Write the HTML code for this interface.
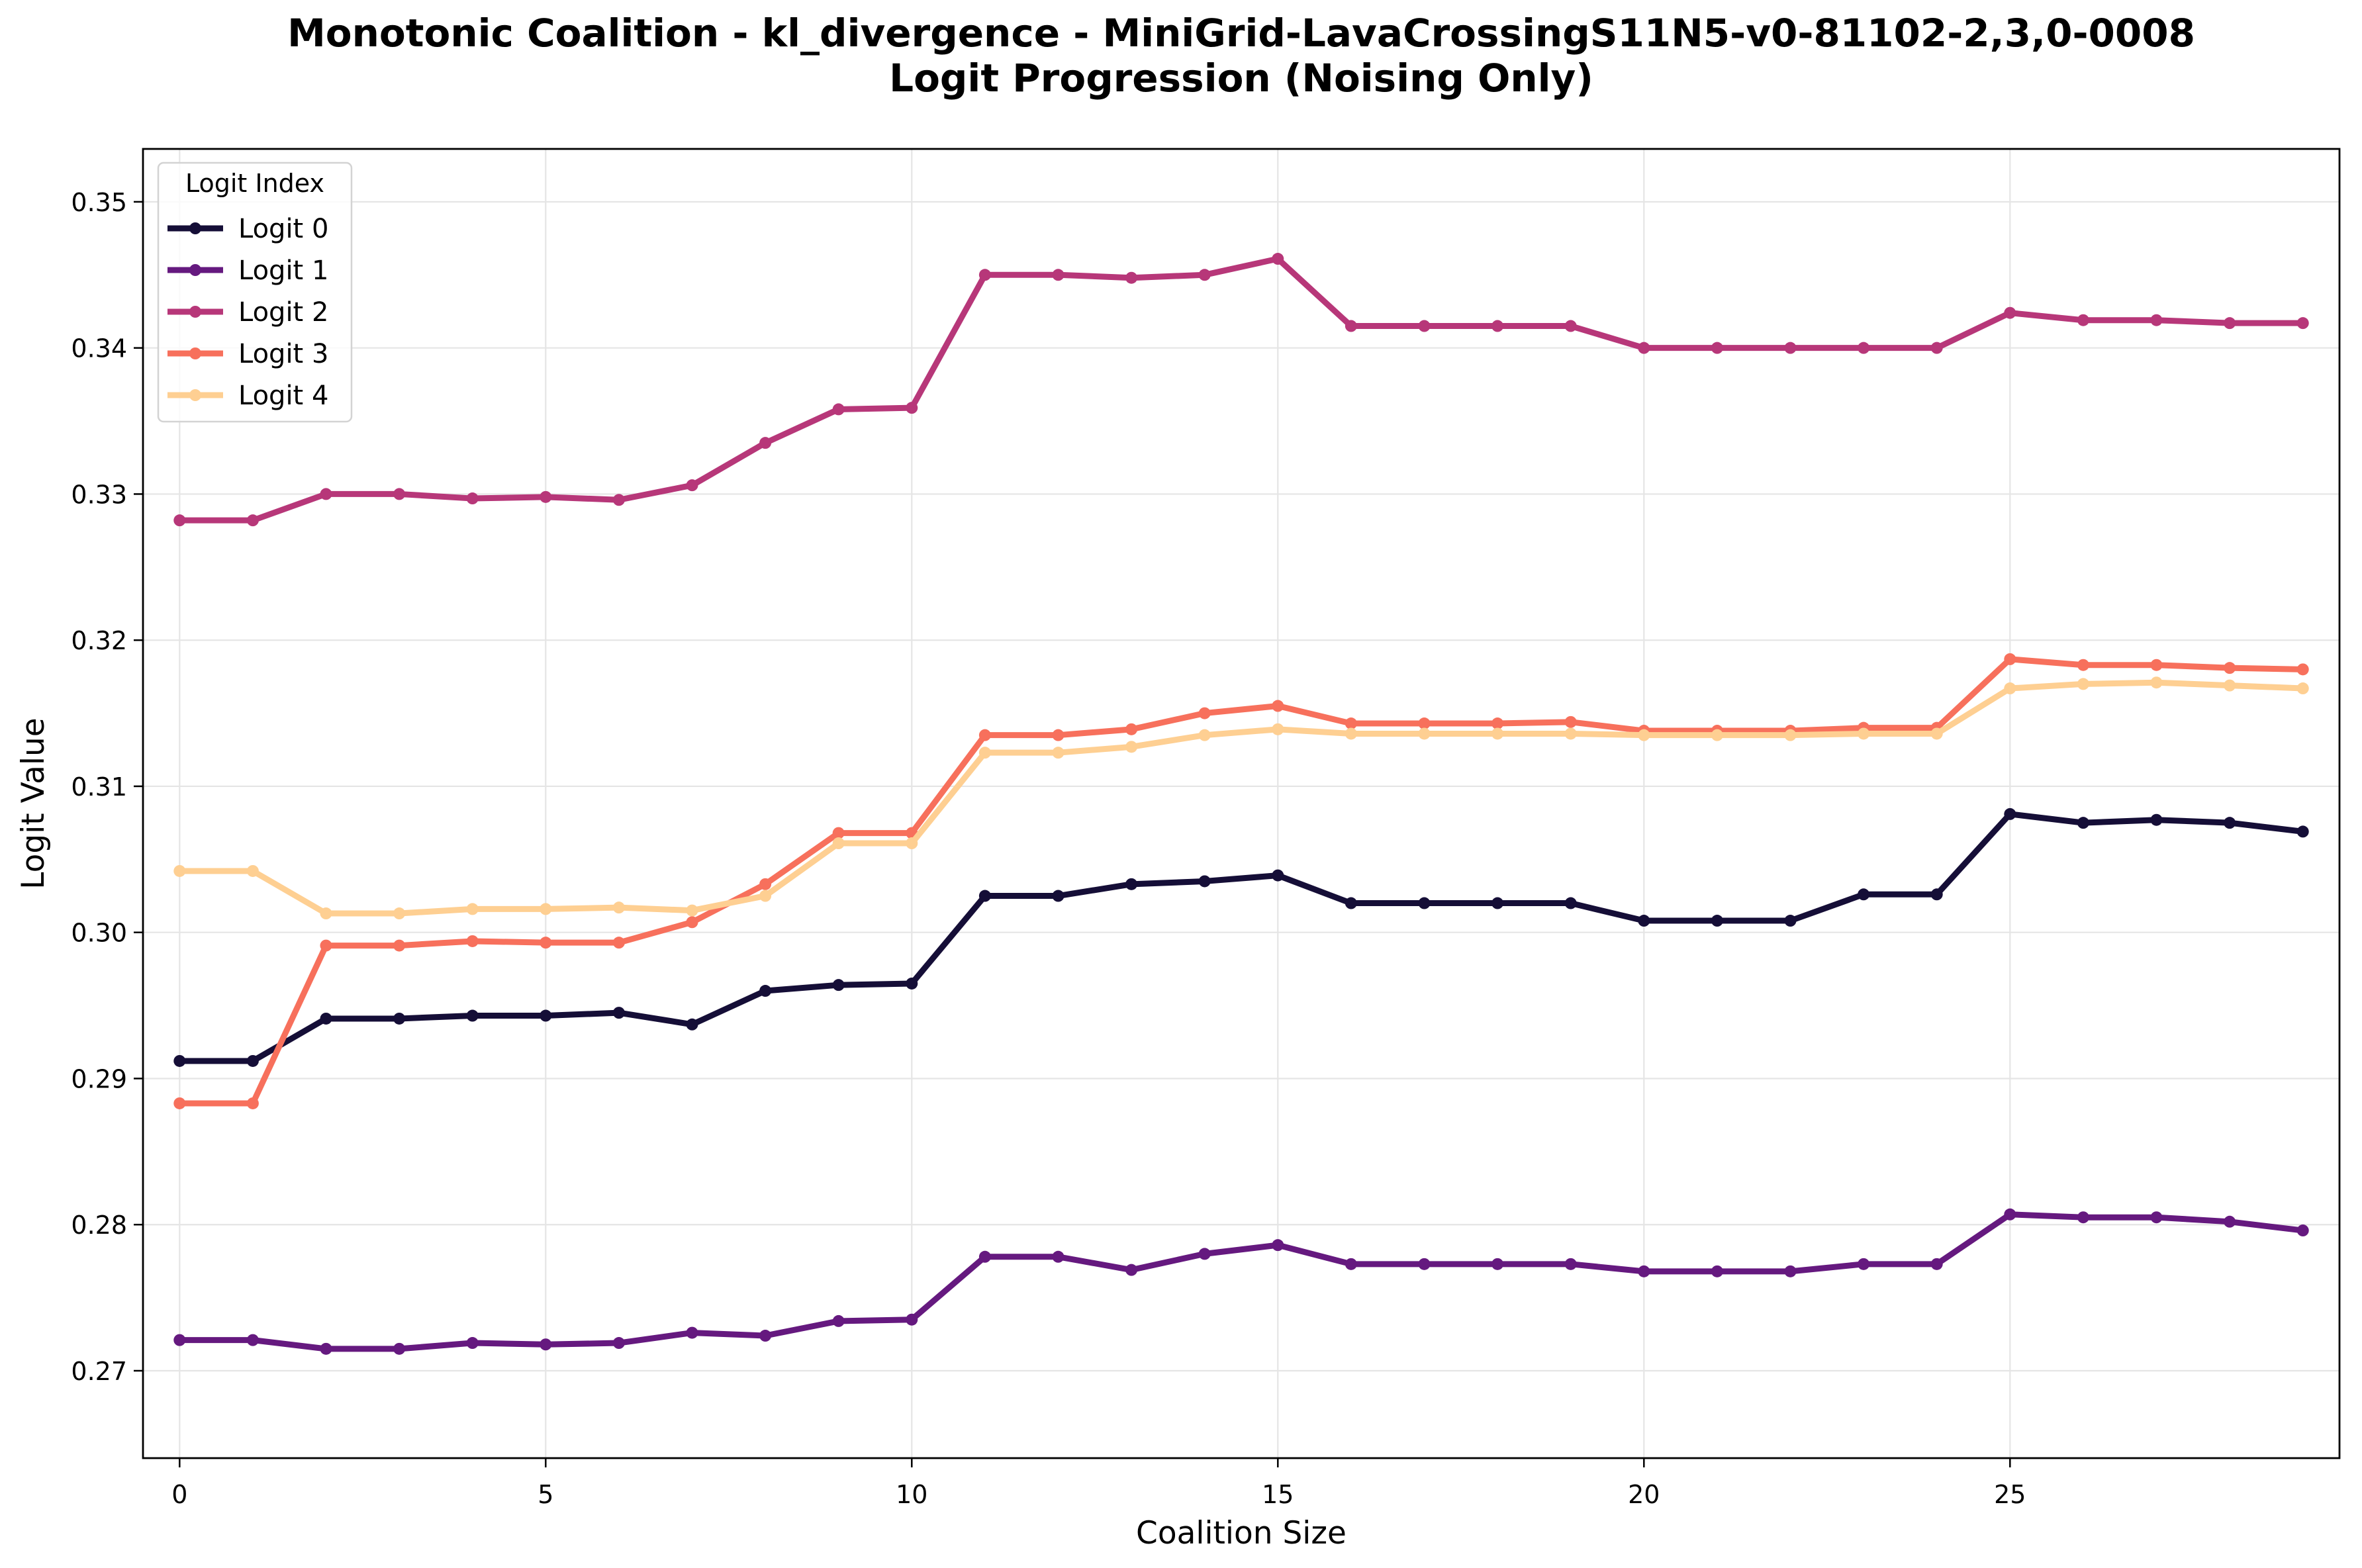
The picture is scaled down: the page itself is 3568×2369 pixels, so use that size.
<!DOCTYPE html>
<html><head><meta charset="utf-8"><style>
html,body{margin:0;padding:0;background:#fff;}
svg{display:block;font-family:"DejaVu Sans","Liberation Sans",sans-serif;}
</style></head><body>
<svg id="chart" width="3568" height="2369" viewBox="0 0 3568 2369" xmlns="http://www.w3.org/2000/svg">
<rect width="3568" height="2369" fill="#fff"/>
<text x="1875" y="70" text-anchor="middle" font-size="58" font-weight="bold">Monotonic Coalition - kl_divergence - MiniGrid-LavaCrossingS11N5-v0-81102-2,3,0-0008</text>
<text x="1875" y="138" text-anchor="middle" font-size="58" font-weight="bold">Logit Progression (Noising Only)</text>
<g id="grid"></g>
<g id="series"></g>
<rect x="216" y="225" width="3318" height="1978" fill="none" stroke="#000" stroke-width="2.8"/>
<g id="ticks"></g>
<text x="1875" y="2332" text-anchor="middle" font-size="47">Coalition Size</text>
<text transform="translate(66,1214) rotate(-90)" text-anchor="middle" font-size="47">Logit Value</text>
<g id="legend">
<rect x="239" y="246" width="292" height="391" rx="8" fill="#fff" fill-opacity="0.8" stroke="#d3d3d3" stroke-width="2.5"/>
<text x="385" y="290" text-anchor="middle" font-size="38">Logit Index</text>
</g>
</svg>
<script>
const xValues=[0,1,2,3,4,5,6,7,8,9,10,11,12,13,14,15,16,17,18,19,20,21,22,23,24,25,26,27,28,29];
const logit0=[0.2912,0.2912,0.2941,0.2941,0.2943,0.2943,0.2945,0.2937,0.2960,0.2964,0.2965,0.3025,0.3025,0.3033,0.3035,0.3039,0.3020,0.3020,0.3020,0.3020,0.3008,0.3008,0.3008,0.3026,0.3026,0.3081,0.3075,0.3077,0.3075,0.3069];
const logit1=[0.2721,0.2721,0.2715,0.2715,0.2719,0.2718,0.2719,0.2726,0.2724,0.2734,0.2735,0.2778,0.2778,0.2769,0.2780,0.2786,0.2773,0.2773,0.2773,0.2773,0.2768,0.2768,0.2768,0.2773,0.2773,0.2807,0.2805,0.2805,0.2802,0.2796];
const logit2=[0.3282,0.3282,0.3300,0.3300,0.3297,0.3298,0.3296,0.3306,0.3335,0.3358,0.3359,0.3450,0.3450,0.3448,0.3450,0.3461,0.3415,0.3415,0.3415,0.3415,0.3400,0.3400,0.3400,0.3400,0.3400,0.3424,0.3419,0.3419,0.3417,0.3417];
const logit3=[0.2883,0.2883,0.2991,0.2991,0.2994,0.2993,0.2993,0.3007,0.3033,0.3068,0.3068,0.3135,0.3135,0.3139,0.3150,0.3155,0.3143,0.3143,0.3143,0.3144,0.3138,0.3138,0.3138,0.3140,0.3140,0.3187,0.3183,0.3183,0.3181,0.3180];
const logit4=[0.3042,0.3042,0.3013,0.3013,0.3016,0.3016,0.3017,0.3015,0.3025,0.3061,0.3061,0.3123,0.3123,0.3127,0.3135,0.3139,0.3136,0.3136,0.3136,0.3136,0.3135,0.3135,0.3135,0.3136,0.3136,0.3167,0.3170,0.3171,0.3169,0.3167];
const seriesNames=["Logit 0","Logit 1","Logit 2","Logit 3","Logit 4"];
const xTicks=[0,5,10,15,20,25];
const yTicks=[0.27,0.28,0.29,0.30,0.31,0.32,0.33,0.34,0.35];
const yTickLabels=["0.27","0.28","0.29","0.30","0.31","0.32","0.33","0.34","0.35"];

const NS="http://www.w3.org/2000/svg";
const colors=["#150e37","#65197f","#b73779","#f7705c","#fecf92"];
const allSeries=[logit0,logit1,logit2,logit3,logit4];
const X0=216,X1=3534,Y0=225,Y1=2203;
const xMin=-0.5,xMax=29.5,yMin=0.26402,yMax=0.35362;
function sx(v){return X0+(v-xMin)/(xMax-xMin)*(X1-X0);}
function sy(v){return Y1-(v-yMin)/(yMax-yMin)*(Y1-Y0);}
function mk(tag,attrs,parent){const e=document.createElementNS(NS,tag);for(const k in attrs)e.setAttribute(k,attrs[k]);parent.appendChild(e);return e;}
const grid=document.getElementById('grid'),ticks=document.getElementById('ticks'),ser=document.getElementById('series'),leg=document.getElementById('legend');
xTicks.forEach(t=>{
  const g=mk('line',{x1:sx(t),x2:sx(t),y1:Y0,y2:Y1,stroke:'#e5e5e5','stroke-width':2.2},grid);
  
  
  const tk=mk('line',{x1:sx(t),x2:sx(t),y1:Y1,y2:Y1+14,stroke:'#000','stroke-width':2.5},ticks);
  
  
  const tx=mk('text',{x:sx(t),y:Y1+68,'text-anchor':'middle','font-size':38},ticks);
  tx.textContent=String(t);
  
  
});
yTicks.forEach((t,i)=>{
  const g=mk('line',{x1:X0,x2:X1,y1:sy(t),y2:sy(t),stroke:'#e5e5e5','stroke-width':2.2},grid);
  
  
  const tk=mk('line',{x1:X0-14,x2:X0,y1:sy(t),y2:sy(t),stroke:'#000','stroke-width':2.5},ticks);
  
  
  const tx=mk('text',{x:X0-24,y:sy(t)+14,'text-anchor':'end','font-size':38},ticks);
  tx.textContent=yTickLabels[i];
  
  
});
allSeries.forEach((vals,si)=>{
  const pts=vals.map((v,i)=>sx(xValues[i])+','+sy(v)).join(' ');
  const pl=mk('polyline',{points:pts,fill:'none',stroke:colors[si],'stroke-width':9,'stroke-linejoin':'round'},ser);
  
  
  vals.forEach((v,i)=>{
    const c=mk('circle',{cx:sx(xValues[i]),cy:sy(v),r:9,fill:colors[si]},ser);
    
    
  });
  const ly=345+si*63;
  const ll=mk('line',{x1:253,x2:337,y1:ly,y2:ly,stroke:colors[si],'stroke-width':9},leg);
  
  
  const lc=mk('circle',{cx:295,cy:ly,r:9,fill:colors[si]},leg);
  
  
  const lt=mk('text',{x:360,y:ly+14,'font-size':40},leg);
  lt.textContent=seriesNames[si];
  
  
});
</script>
</body></html>
